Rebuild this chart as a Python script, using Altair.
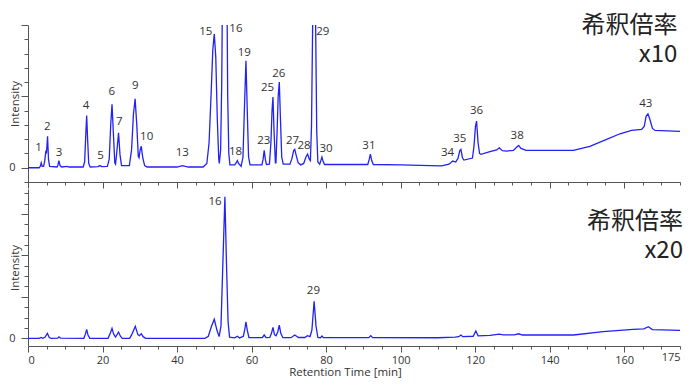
import altair as alt
import pandas as pd

# ---------------- data ----------------
# Upper trace (dilution x10), retention time [min] and intensity (arbitrary units, 1 = major tick)
top_rt = (
    [0, 3.0, 3.3, 3.55, 3.8, 4.2]
    + [4.5, 4.8, 4.95, 5.25, 5.5, 5.8]
    + [7.8, 8.0, 8.3, 8.6, 9.0, 10.5, 11.0]
    + [14.8, 15.2, 15.5, 15.75, 16.0, 16.3, 16.7]
    + [18.8, 19.3, 19.8]
    + [21.3, 21.8, 22.2, 22.55, 22.9, 23.3, 23.5]
    + [23.8, 24.3, 24.7, 25.1]
    + [27.2, 27.8, 28.3, 28.75, 29.2, 29.6, 29.8]
    + [30.1, 30.4, 30.8, 31.3, 32.0]
    + [40.0, 41.5, 43.0]
    + [47.0, 48.0, 48.6, 49.2, 49.6, 50.0, 50.4, 50.8, 51.2, 51.35]
    + [51.7, 52.0, 52.2, 52.45, 52.8, 53.15, 53.4, 53.6, 53.9, 54.2]
    + [55.5, 55.9, 56.2, 56.5, 57.2]
    + [57.7, 58.1, 58.5, 58.85, 59.2, 59.6]
    + [62.8, 63.1, 63.4, 63.7, 64.0]
    + [64.8, 65.2, 65.5, 65.75, 66.05, 66.4, 66.55]
    + [66.85, 67.15, 67.45, 67.75, 68.1, 68.5]
    + [70.3, 70.8, 71.3, 71.6, 72.0, 72.5, 73.2]
    + [74.0, 74.6, 75.05, 75.5, 75.8]
    + [76.1, 76.4, 76.8, 77.2, 77.5, 77.8]
    + [78.3, 78.6, 78.9, 79.2, 79.6]
    + [91.2, 91.6, 91.9, 92.25, 92.7]
    + [100, 108, 111, 113.0, 114.0, 114.8]
    + [115.4, 115.9, 116.2, 116.6, 117.0]
    + [119.3, 119.7, 120.1, 120.4, 120.8, 121.2, 121.6]
    + [124.0, 125.8, 126.5, 127.3, 128.5, 130.3, 131.2, 131.7, 132.3, 133.7]
    + [146.4, 150.8, 155.3, 158.9, 162.0, 164.7, 165.4, 165.9, 166.4, 166.9, 167.6, 168.3, 175]
)
top_int = (
    [0, 0, 0.02, 0.07, 0.02, 0.02]
    + [0.10, 0.24, 0.20, 0.44, 0.12, 0.02]
    + [0.01, 0.03, 0.10, 0.03, 0.01, 0.02, 0.01]
    + [0.01, 0.08, 0.45, 0.73, 0.40, 0.06, 0.01]
    + [0.015, 0.03, 0.015]
    + [0.02, 0.12, 0.60, 0.89, 0.50, 0.07, 0.05]
    + [0.20, 0.49, 0.18, 0.03]
    + [0.03, 0.25, 0.75, 0.965, 0.60, 0.16, 0.14]
    + [0.25, 0.30, 0.14, 0.03, 0.01]
    + [0.01, 0.03, 0.01]
    + [0.01, 0.06, 0.35, 1.10, 1.65, 1.875, 1.55, 0.70, 0.12, 0.06]
    + [0.25, 1.2, 2.5, 7.0, 12.6, 7.0, 2.5, 1.0, 0.2, 0.04]
    + [0.04, 0.07, 0.10, 0.06, 0.02]
    + [0.15, 0.85, 1.50, 0.80, 0.15, 0.04]
    + [0.04, 0.12, 0.243, 0.12, 0.045]
    + [0.05, 0.35, 0.80, 0.99, 0.50, 0.07, 0.07]
    + [0.50, 1.00, 1.20, 0.70, 0.15, 0.05]
    + [0.05, 0.12, 0.24, 0.257, 0.17, 0.07, 0.04]
    + [0.06, 0.15, 0.19, 0.12, 0.10]
    + [0.6, 2.0, 3.3, 2.0, 0.5, 0.08]
    + [0.05, 0.10, 0.15, 0.09, 0.045]
    + [0.045, 0.12, 0.19, 0.10, 0.045]
    + [0.04, 0.03, 0.025, 0.05, 0.094, 0.08]
    + [0.13, 0.24, 0.257, 0.14, 0.107]
    + [0.135, 0.30, 0.58, 0.653, 0.35, 0.20, 0.187]
    + [0.224, 0.25, 0.28, 0.24, 0.234, 0.243, 0.29, 0.313, 0.27, 0.243]
    + [0.243, 0.30, 0.397, 0.476, 0.523, 0.537, 0.58, 0.72, 0.755, 0.68, 0.55, 0.523, 0.51]
)

# Lower trace (dilution x20)
bot_rt = (
    [0, 3.0, 3.5, 4.0, 4.6, 5.2, 5.7, 6.2]
    + [8.0, 8.3, 8.7]
    + [15.0, 15.4, 15.75, 16.1, 16.6]
    + [21.5, 22.1, 22.55, 23.0, 23.5, 24.3, 24.8, 25.3]
    + [27.3, 28.0, 28.8, 29.5, 29.9, 30.4, 30.9, 31.6]
    + [47.5, 48.4, 49.2, 50.0, 50.7, 51.3]
    + [51.8, 52.3, 52.85, 53.3, 53.7, 54.1]
    + [55.5, 56.2, 56.8]
    + [57.8, 58.2, 58.5, 58.85, 59.3]
    + [62.9, 63.4, 63.9]
    + [64.9, 65.35, 65.75, 66.15, 66.6, 67.05, 67.45, 67.85, 68.4]
    + [70.6, 71.6, 72.6]
    + [74.3, 75.0, 75.7, 76.2, 76.8, 77.3, 77.8]
    + [78.5, 78.9, 79.3]
    + [91.5, 92.0, 92.5]
    + [110, 114.6, 115.6, 116.2, 116.7, 119.5, 120.2, 120.8]
    + [124.0, 126.5, 127.5, 130.5, 131.7, 132.7, 146.4, 154.4, 162.4, 165.3, 166.5, 167.6, 175]
)
bot_int = (
    [0, 0, 0.02, 0.0, 0.03, 0.12, 0.02, 0.0]
    + [0.005, 0.035, 0.005]
    + [0.0, 0.10, 0.216, 0.08, 0.0]
    + [0.0, 0.13, 0.24, 0.10, 0.03, 0.15, 0.05, 0.0]
    + [0.0, 0.12, 0.29, 0.09, 0.064, 0.11, 0.04, 0.0]
    + [0.0, 0.05, 0.28, 0.46, 0.20, 0.04]
    + [0.30, 1.80, 3.41, 1.70, 0.40, 0.03]
    + [0.01, 0.05, 0.01]
    + [0.05, 0.22, 0.40, 0.20, 0.02]
    + [0.015, 0.08, 0.015]
    + [0.02, 0.12, 0.264, 0.09, 0.06, 0.16, 0.32, 0.12, 0.015]
    + [0.015, 0.08, 0.02]
    + [0.02, 0.064, 0.04, 0.20, 0.895, 0.30, 0.02]
    + [0.015, 0.056, 0.016]
    + [0.016, 0.064, 0.016]
    + [0.014, 0.03, 0.04, 0.08, 0.04, 0.05, 0.175, 0.06]
    + [0.07, 0.10, 0.085, 0.085, 0.11, 0.08, 0.08, 0.16, 0.216, 0.23, 0.28, 0.21, 0.19]
)

# Peak number labels
top_peak_ids = ["1", "2", "3", "4", "5", "6", "7", "9", "10", "13", "15", "16", "18", "19",
                "23", "25", "26", "27", "28", "29", "30", "31", "34", "35", "36", "38", "43"]
top_peak_rt = [2.8, 5.18, 8.32, 15.57, 19.5, 22.5, 24.5, 28.8, 31.85, 41.4, 47.7, 55.8, 55.7, 58.05,
               63.3, 64.3, 67.3, 71.0, 74.1, 79.1, 80.0, 91.5, 112.6, 115.9, 120.4, 131.3, 165.8]
top_peak_int = [0.28, 0.57, 0.21, 0.87, 0.16, 1.06, 0.64, 1.15, 0.43, 0.20, 1.90, 1.94, 0.22, 1.61,
                0.38, 1.12, 1.32, 0.38, 0.30, 1.90, 0.26, 0.30, 0.20, 0.40, 0.79, 0.45, 0.895]

bot_peak_ids = ["16", "29"]
bot_peak_rt = [50.2, 76.6]
bot_peak_int = [3.29, 1.13]

top_note = ["希釈倍率\nx10"]
top_note_rt = [174.3]
top_note_int = [1.98]

bot_note = ["希釈倍率\nx20"]
bot_note_rt = [175.8]
bot_note_int = [2.80]

x_ticks = list(range(0, 176, 5))
top_y_ticks = [0, -0.2, 0.2, 0.4, 0.6, 0.8, 1, 1.2, 1.4, 1.6, 1.8, 2]
bot_y_ticks = [0, 0.25, 0.5, 0.75, 1, 1.25, 1.5, 1.75, 2, 2.25, 2.5, 2.75, 3, 3.25, 3.5]

# ---------------- chart ----------------
LINE = "#2222f5"
W, H = 652, 157
FONT = "Open Sans"
JP = "Noto Sans CJK JP"

x_scale = alt.Scale(domain=[0, 175], nice=False, zero=False)

major_x = {"condition": {"test": "datum.value % 20 === 0", "value": 6}, "value": 3}
major_y = {"condition": {"test": "abs(datum.value - round(datum.value)) < 0.001", "value": 7}, "value": 4}


def panel(rt, inten, ids, prt, pint, note, nrt, nint, ydom, yticks, bottom):
    df = pd.DataFrame({"rt": rt, "v": inten})
    ldf = pd.DataFrame({"id": ids, "rt": prt, "v": pint})
    ndf = pd.DataFrame({"t": note, "rt": nrt, "v": nint})

    if bottom:
        xaxis = alt.Axis(values=x_ticks, tickSize=major_x, labelPadding=2, labelOverlap=False,
                         labelExpr="datum.value % 20 === 0 || datum.value === 175 ? datum.label : ''",
                         title="Retention Time [min]", titleX=317, titleY=26,
                         titleBaseline="middle", titleAlign="center")
    else:
        xaxis = alt.Axis(values=x_ticks, tickSize=major_x, labels=False, title=None)

    yaxis = alt.Axis(values=yticks, tickSize=major_y, labelPadding=6, labelOverlap=False,
                     labelExpr="datum.value === 0 ? '0' : ''",
                     title="Intensity", titleX=-13, titleY=H / 2, titleAngle=270,
                     titleBaseline="middle", titleAlign="center")
    y_scale = alt.Scale(domain=ydom, nice=False, zero=False)

    X = alt.X("rt:Q", scale=x_scale, axis=xaxis)
    Y = alt.Y("v:Q", scale=y_scale, axis=yaxis)

    line = alt.Chart(df).mark_line(color=LINE, strokeWidth=1.3, clip=True).encode(x=X, y=Y)
    labels = alt.Chart(ldf).mark_text(font=FONT, fontSize=11.5, color="#333333",
                                      align="center", baseline="middle").encode(
        x=X, y=Y, text="id:N")
    notes = alt.Chart(ndf).mark_text(font=JP, fontSize=24, color="#222222", lineBreak="\n",
                                     lineHeight=29, align="right", baseline="middle").encode(
        x=X, y=Y, text="t:N")
    return alt.layer(line, labels, notes).properties(width=W, height=H)


top = panel(top_rt, top_int, top_peak_ids, top_peak_rt, top_peak_int,
            top_note, top_note_rt, top_note_int, [-0.2, 2.0], top_y_ticks, False)
bot = panel(bot_rt, bot_int, bot_peak_ids, bot_peak_rt, bot_peak_int,
            bot_note, bot_note_rt, bot_note_int, [-0.185, 3.6], bot_y_ticks, True)

chart = alt.vconcat(top, bot, spacing=-2).properties(
    padding={"left": 0, "top": 6, "right": 5, "bottom": 5}
).configure_view(strokeWidth=0).configure_axis(
    grid=False, domainColor="#555555", tickColor="#555555", labelColor="#333333",
    titleColor="#333333", labelFont=FONT, titleFont=FONT, labelFontSize=11,
    titleFontSize=11.5, titleFontWeight="normal", domainWidth=1, tickWidth=1,
    labelOverlap=False,
)

chart.save("out.html", embed_options={"renderer": "svg", "actions": False})
